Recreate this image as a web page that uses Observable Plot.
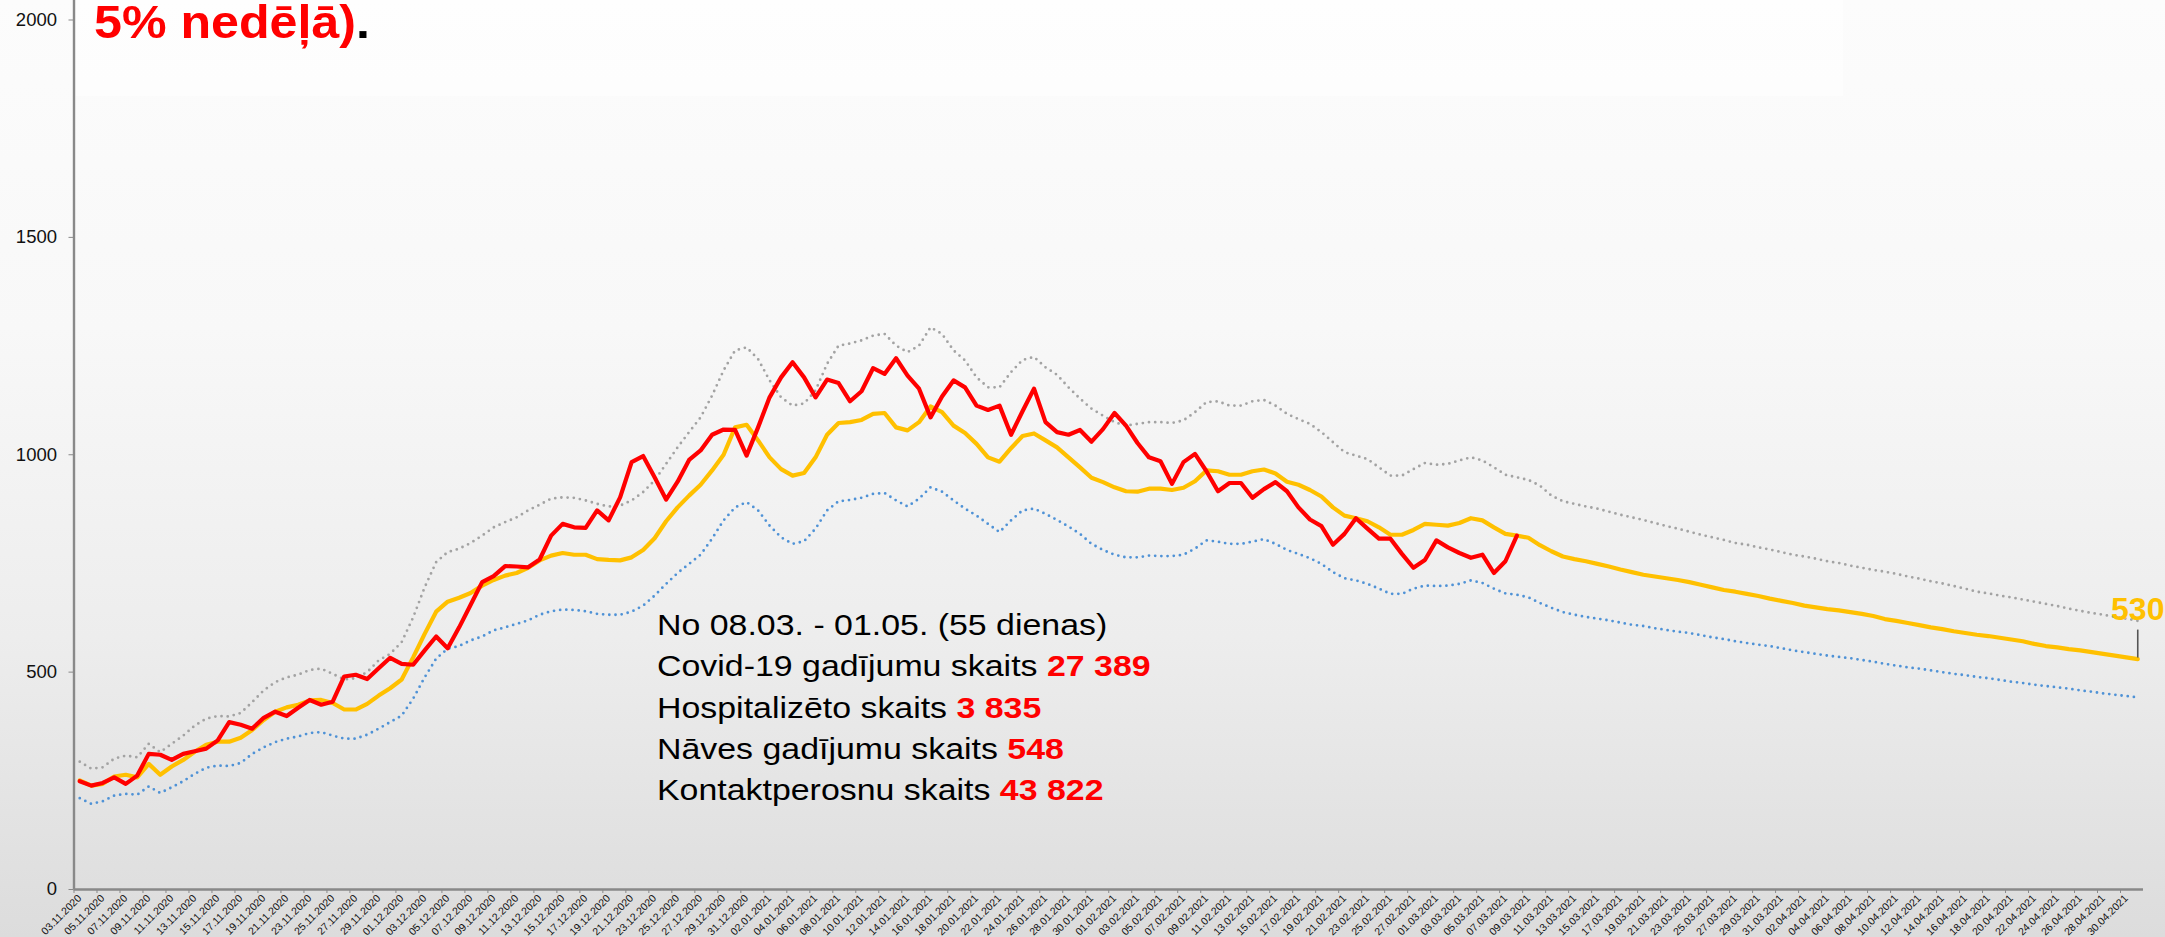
<!DOCTYPE html>
<html>
<head>
<meta charset="utf-8">
<script src="https://cdn.jsdelivr.net/npm/d3@7"></script>
<script src="https://cdn.jsdelivr.net/npm/@observablehq/plot@0.6"></script>
<style>
html, body { margin: 0; padding: 0; }
body { width: 2165px; height: 937px; overflow: hidden; font-family: "Liberation Sans", Arial, sans-serif; }
#chart { width: 2165px; height: 937px; }
</style>
</head>
<body>
<div id="chart"></div>
<script>
// ---- data ----
const startDate = "2020-11-03";            // first category (daily)
const endDate = "2021-05-01";              // last category

// red: registered cases (03.11.2020 - 08.03.2021)
const actual = [
  249, 239, 245, 258, 243, 262, 312, 310, 298, 312,
  318, 324, 343, 385, 379, 370, 395, 409, 399, 418,
  436, 425, 432, 490, 494, 484, 509, 533, 519, 517,
  550, 582, 555, 603, 655, 707, 721, 744, 743, 741,
  759, 814, 841, 833, 832, 872, 849, 902, 983, 997,
  948, 897, 938, 988, 1010, 1046, 1058, 1057, 998, 1063,
  1132, 1178, 1213, 1178, 1132, 1173, 1165, 1123, 1146, 1199,
  1186, 1222, 1182, 1152, 1086, 1134, 1171, 1155, 1113, 1103,
  1113, 1046, 1100, 1152, 1075, 1052, 1046, 1057, 1030, 1059,
  1096, 1067, 1027, 994, 985, 933, 983, 1002, 962, 916,
  935, 935, 901, 921, 937, 916, 879, 851, 836, 793,
  818, 854, 830, 807, 807, 772, 740, 758, 803, 787,
  774, 763, 770, 728, 755, 814
];

// yellow: average / forecast
const average = [
  251, 239, 243, 260, 264, 258, 289, 264, 283, 298,
  317, 333, 340, 340, 349, 367, 390, 409, 419, 425,
  435, 436, 429, 414, 414, 427, 446, 463, 483, 534,
  588, 639, 662, 671, 682, 699, 712, 722, 728, 740,
  757, 768, 774, 770, 770, 760, 758, 757, 764, 781,
  808, 847, 879, 906, 931, 964, 1000, 1063, 1069, 1033,
  994, 967, 952, 958, 994, 1046, 1073, 1075, 1080, 1094,
  1096, 1063, 1056, 1075, 1111, 1098, 1067, 1050, 1025, 994,
  984, 1015, 1043, 1049, 1033, 1017, 994, 971, 947, 937,
  925, 916, 915, 922, 922, 919, 924, 939, 964, 962,
  954, 954, 962, 966, 957, 938, 931, 919, 904, 879,
  860, 854, 847, 833, 816, 816, 827, 841, 839, 837,
  843, 854, 849, 833, 818, 814, 809, 792, 778, 766,
  760, 755, 749, 743, 736, 730, 724, 720, 716, 712,
  707, 701, 695, 689, 685, 680, 675, 669, 664, 659,
  653, 649, 645, 642, 638, 634, 629, 622, 618, 613,
  608, 603, 599, 594, 590, 586, 583, 579, 575, 571,
  565, 560, 557, 553, 550, 546, 542, 538, 534, 530
];

// grey dotted: upper bound
const upper = [
  294, 278, 281, 301, 308, 304, 335, 316, 335, 354,
  377, 393, 399, 398, 406, 431, 458, 477, 488, 494,
  505, 508, 496, 483, 486, 500, 527, 542, 569, 626,
  695, 753, 776, 784, 797, 814, 833, 845, 856, 872,
  885, 899, 902, 901, 895, 887, 881, 883, 895, 914,
  941, 979, 1017, 1052, 1086, 1136, 1194, 1240, 1247, 1220,
  1171, 1132, 1113, 1118, 1148, 1209, 1251, 1256, 1263, 1274,
  1278, 1251, 1236, 1251, 1293, 1278, 1240, 1217, 1178, 1155,
  1155, 1190, 1218, 1225, 1201, 1184, 1155, 1129, 1106, 1090,
  1075, 1067, 1071, 1075, 1075, 1073, 1079, 1098, 1121, 1123,
  1113, 1113, 1123, 1126, 1113, 1094, 1082, 1071, 1052, 1029,
  1006, 998, 990, 971, 952, 952, 967, 981, 977, 979,
  987, 994, 987, 971, 954, 948, 942, 929, 906, 893,
  887, 881, 876, 869, 862, 856, 850, 843, 836, 830,
  823, 816, 810, 804, 797, 793, 787, 782, 776, 770,
  766, 761, 755, 751, 745, 740, 735, 731, 726, 720,
  715, 709, 704, 698, 692, 685, 681, 676, 672, 667,
  662, 657, 652, 646, 641, 636, 632, 627, 623, 618
];

// blue dotted: lower bound
const lower = [
  210, 197, 203, 216, 220, 218, 237, 222, 235, 249,
  266, 280, 285, 284, 291, 312, 327, 339, 347, 352,
  360, 362, 354, 347, 347, 356, 370, 385, 400, 439,
  488, 531, 554, 560, 573, 582, 596, 603, 611, 619,
  632, 640, 644, 643, 640, 634, 632, 632, 639, 653,
  676, 703, 728, 749, 770, 807, 849, 879, 891, 872,
  837, 810, 795, 801, 830, 872, 893, 896, 901, 910,
  912, 895, 881, 899, 925, 915, 895, 876, 860, 841,
  822, 849, 872, 876, 864, 850, 835, 818, 795, 781,
  770, 764, 764, 768, 767, 767, 770, 784, 803, 800,
  795, 795, 800, 806, 795, 781, 772, 762, 749, 730,
  716, 711, 703, 692, 680, 680, 692, 699, 698, 699,
  703, 711, 705, 692, 681, 678, 672, 659, 648, 638,
  632, 627, 623, 619, 614, 609, 606, 601, 597, 593,
  590, 585, 580, 576, 571, 567, 563, 560, 555, 550,
  546, 542, 538, 535, 532, 528, 524, 519, 515, 511,
  508, 504, 500, 496, 493, 489, 486, 482, 478, 475,
  471, 468, 465, 462, 458, 455, 451, 448, 445, 442
];

const yTicks = [0, 500, 1000, 1500, 2000];

const titleText = "5% nedēļā)";
const titleEnd = ".";
const noteLines = [
  ["No 08.03. - 01.05. (55 dienas)", ""],
  ["Covid-19 gadījumu skaits ", "27 389"],
  ["Hospitalizēto skaits ", "3 835"],
  ["Nāves gadījumu skaits ", "548"],
  ["Kontaktperosnu skaits ", "43 822"]
];

// ---- build ----
const d0 = d3.utcParse("%Y-%m-%d")(startDate);
const dEnd = d3.utcParse("%Y-%m-%d")(endDate);
const dayAt = i => d3.utcDay.offset(d0, i);
const toRows = arr => arr.map((v, i) => ({date: dayAt(i), value: v}));
const actualRows = toRows(actual);
const averageRows = toRows(average);
const upperRows = toRows(upper);
const lowerRows = toRows(lower);
const lastAvg = averageRows[averageRows.length - 1];

const halfDay = 12 * 3600 * 1000;
const xDomain = [new Date(+d0 - halfDay), new Date(+dEnd + halfDay)];
const labelDates = d3.utcDay.range(d0, dEnd, 2);
const boundaryDates = labelDates.map(d => new Date(+d - halfDay));
const fmt = d3.utcFormat("%d.%m.%Y");

const axisGrey = "#898989";

const chart = Plot.plot({
  width: 2165,
  height: 937,
  marginLeft: 73.5,
  marginRight: 22,
  marginTop: 19.5,
  marginBottom: 48,
  style: {
    background: "linear-gradient(to bottom, #fcfcfc 0%, #f8f8f8 35%, #ededed 68%, #dcdcdc 100%)",
    fontFamily: "'Liberation Sans', Arial, sans-serif",
    overflow: "visible"
  },
  x: {type: "utc", domain: xDomain, label: null},
  y: {domain: [0, 2000], label: null},
  marks: [
    Plot.axisY({ticks: yTicks, tickFormat: d => String(d), tickSize: 5, tickPadding: 12,
      fontSize: 18.5, stroke: axisGrey, fill: "#111", label: null}),
    Plot.axisX({ticks: labelDates, tickFormat: d => fmt(d), tickRotate: -45, tickSize: 0,
      tickPadding: 7, fontSize: 10.5, fill: "#111", label: null}),
    Plot.axisX({ticks: boundaryDates, tickFormat: () => "", tickSize: 4, stroke: axisGrey, label: null}),
    Plot.ruleY([0], {stroke: axisGrey, strokeWidth: 2.4}),
    Plot.ruleX([xDomain[0]], {stroke: axisGrey, strokeWidth: 2.4, insetTop: -20}),
    Plot.line(upperRows, {x: "date", y: "value", stroke: "#a3a3a3", strokeWidth: 2.8,
      strokeDasharray: "0 6.2", strokeLinecap: "round"}),
    Plot.line(lowerRows, {x: "date", y: "value", stroke: "#4f92d6", strokeWidth: 2.8,
      strokeDasharray: "0 6.2", strokeLinecap: "round"}),
    Plot.line(averageRows, {x: "date", y: "value", stroke: "#FFC000", strokeWidth: 4.2,
      strokeLinejoin: "round"}),
    Plot.line(actualRows, {x: "date", y: "value", stroke: "#FF0000", strokeWidth: 4.2,
      strokeLinejoin: "round"}),
    Plot.ruleX([lastAvg], {x: "date", y1: "value", y2: "value", stroke: "#555", strokeWidth: 1.6,
      insetTop: -29, insetBottom: 1}),
    Plot.text([lastAvg], {x: "date", y: "value", text: d => String(d.value), fill: "#FFC000",
      fontSize: 32, fontWeight: "bold", lineAnchor: "bottom", dy: -39})
  ]
});

document.getElementById("chart").appendChild(chart);

// overlays: title box, title, annotation
const svg = d3.select(chart);
svg.insert("rect", ":first-child")
  .attr("x", 76).attr("y", 0).attr("width", 1767).attr("height", 96)
  .attr("fill", "#ffffff").attr("opacity", 0.6);

const title = svg.append("text")
  .attr("transform", "translate(94,38) scale(1.067,1)")
  .attr("text-anchor", "start")
  .attr("font-family", "'Liberation Sans', Arial, sans-serif")
  .attr("font-size", 47).attr("font-weight", "bold");
title.append("tspan").attr("fill", "#FF0000").text(titleText);
title.append("tspan").attr("fill", "#000000").text(titleEnd);

noteLines.forEach((ln, i) => {
  const t = svg.append("text")
    .attr("transform", `translate(657,${635 + i * 41.3}) scale(1.13,1)`)
    .attr("text-anchor", "start")
    .attr("font-family", "'Liberation Sans', Arial, sans-serif")
    .attr("font-size", 30).attr("fill", "#000");
  t.append("tspan").text(ln[0]);
  if (ln[1]) t.append("tspan").attr("fill", "#FF0000").attr("font-weight", "bold").text(ln[1]);
});
</script>
</body>
</html>
